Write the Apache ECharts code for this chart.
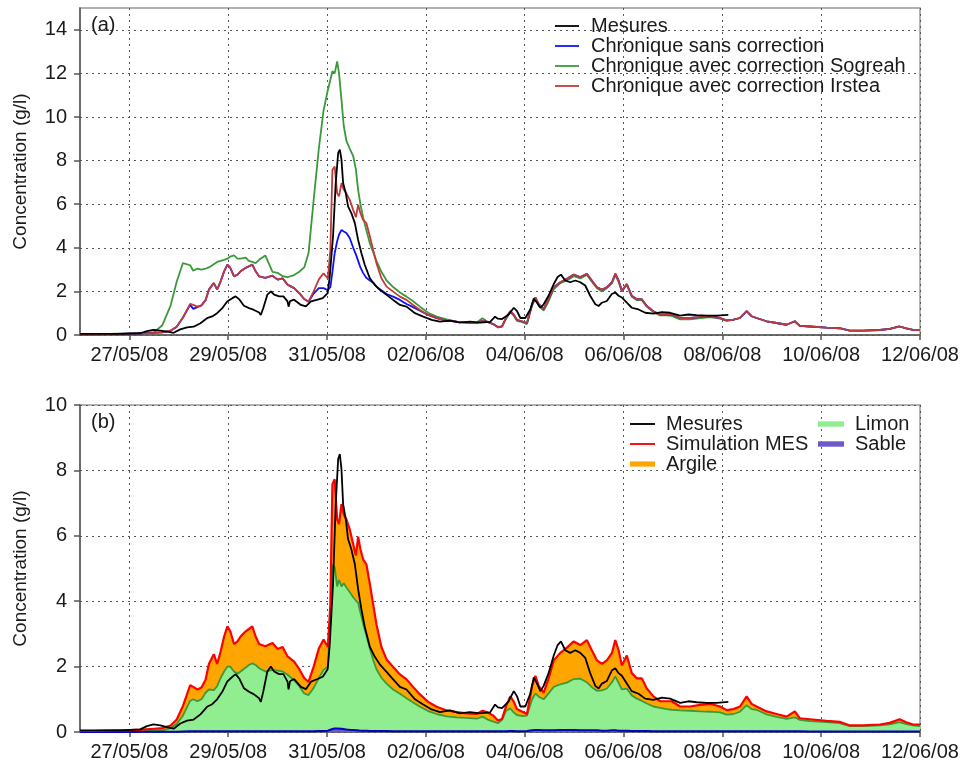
<!DOCTYPE html>
<html><head><meta charset="utf-8">
<script src="https://cdn.jsdelivr.net/npm/echarts@6/dist/echarts.min.js"></script>
<style>html,body{margin:0;padding:0;background:#fff}#c{width:962px;height:767px}</style>
</head><body><div id="c"></div>
<script>
// ---- DATA (hours since 26/05/08 00:00) ----
const tickHours = [24, 72, 120, 168, 216, 264, 312, 360, 408];
const tickLabels = ['27/05/08','29/05/08','31/05/08','02/06/08','04/06/08','06/06/08','08/06/08','10/06/08','12/06/08'];
const yTicksA = [0, 2, 4, 6, 8, 10, 12, 14];
const yTicksB = [0, 2, 4, 6, 8, 10];

const simHours = [
  0, 6, 12, 18, 24, 30, 36, 40, 44, 47,
  50, 53.5, 55, 57, 59, 61, 62.6, 65, 66.6, 68.3,
  70, 71.6, 73, 74.8, 76.5, 78, 80.5, 82, 83.7, 85.3,
  87, 90, 93.5, 96, 98.4, 100.8, 104, 106.5, 108.9, 111,
  113.5, 116, 118.3, 120.4, 121.6, 122.6, 123.7, 124.9, 125.8, 127,
  128.1, 129.4, 131, 132.7, 134, 135.1, 136.2, 137.5, 139.1, 140.8,
  142.4, 144, 146.4, 148.9, 152.1, 155.4, 158.6, 161.8, 165.1, 169.1,
  173.2, 178.1, 183, 187.8, 192.7, 195.5, 198, 200.8, 203, 205,
  207, 209, 210.6, 212.2, 214.6, 217.1, 219.6, 221.2, 222.8, 225.2,
  227.6, 230.1, 233.3, 236.5, 239.8, 243, 246.2, 248.6, 251.1, 253.5,
  255.9, 258.4, 260, 261.6, 263.2, 265.6, 268, 270.5, 272.9, 275.3,
  278.5, 281.8, 285, 287.4, 291.5, 296.4, 301.3, 306.1, 310.9, 314.1,
  317.4, 320.6, 323.8, 326.2, 328.6, 333.5, 338.3, 343.2, 347.2, 349.6,
  354.5, 362.6, 369, 373.9, 380.4, 388.5, 393.3, 398.1, 401.3, 404.6, 408
];
// Chronique avec correction Irstea (= Simulation MES in panel b)
const irstea = [
  0.03, 0.03, 0.04, 0.05, 0.06, 0.07, 0.1, 0.12, 0.2, 0.38,
  0.8, 1.43, 1.38, 1.3, 1.36, 1.6, 2.08, 2.38, 2.08, 2.46,
  2.92, 3.23, 3.08, 2.69, 2.77, 2.92, 3.08, 3.15, 3.23, 2.92,
  2.69, 2.62, 2.72, 2.54, 2.6, 2.31, 2.15, 1.92, 1.65, 1.53,
  2.0, 2.55, 2.83, 2.6, 3.9, 7.58, 7.73, 6.5, 6.36, 6.97,
  6.66, 6.5, 6.2, 5.74, 5.4, 5.97, 5.59, 5.28, 5.13, 4.52,
  3.9, 3.29, 2.6, 2.22, 1.99, 1.76, 1.61, 1.38, 1.15, 0.92,
  0.77, 0.66, 0.61, 0.57, 0.55, 0.65, 0.6, 0.5, 0.35, 0.4,
  0.8, 1.09, 0.94, 0.7, 0.63, 0.55, 1.41, 1.72, 1.41, 1.2,
  1.64, 2.19, 2.42, 2.58, 2.77, 2.66, 2.81, 2.5, 2.19, 2.08,
  2.19, 2.42, 2.81, 2.5, 2.03, 2.34, 1.8, 1.64, 1.64, 1.33,
  1.09, 0.94, 0.94, 0.94, 0.78, 0.78, 0.83, 0.86, 0.78, 0.67,
  0.7, 0.78, 1.09, 0.86, 0.78, 0.63, 0.55, 0.47, 0.63, 0.42,
  0.39, 0.34, 0.31, 0.2, 0.2, 0.23, 0.28, 0.39, 0.3, 0.23, 0.23
];
const sansCorrection = [
  0.03, 0.03, 0.04, 0.05, 0.06, 0.07, 0.1, 0.12, 0.2, 0.38,
  0.8, 1.38, 1.2, 1.28, 1.36, 1.6, 2.08, 2.38, 2.08, 2.46,
  2.92, 3.23, 3.08, 2.69, 2.77, 2.92, 3.08, 3.15, 3.23, 2.92,
  2.69, 2.62, 2.72, 2.54, 2.6, 2.31, 2.15, 1.92, 1.65, 1.53,
  1.9, 2.15, 2.15, 2.05, 2.2, 2.9, 3.75, 4.3, 4.6, 4.82,
  4.75, 4.68, 4.45, 4.0, 3.7, 3.4, 3.1, 2.85, 2.62, 2.5,
  2.4, 2.22, 2.05, 1.88, 1.76, 1.61, 1.42, 1.28, 1.12, 0.92,
  0.77, 0.66, 0.61, 0.57, 0.55, 0.65, 0.6, 0.5, 0.35, 0.4,
  0.8, 1.09, 0.94, 0.7, 0.63, 0.55, 1.41, 1.72, 1.41, 1.2,
  1.64, 2.19, 2.42, 2.58, 2.77, 2.66, 2.81, 2.5, 2.19, 2.08,
  2.19, 2.42, 2.81, 2.5, 2.03, 2.34, 1.8, 1.64, 1.64, 1.33,
  1.09, 0.94, 0.94, 0.94, 0.78, 0.78, 0.83, 0.86, 0.78, 0.67,
  0.7, 0.78, 1.09, 0.86, 0.78, 0.63, 0.55, 0.47, 0.63, 0.42,
  0.39, 0.34, 0.31, 0.2, 0.2, 0.23, 0.28, 0.39, 0.3, 0.23, 0.23
];
const sogreah = [
  0.03, 0.03, 0.04, 0.06, 0.07, 0.08, 0.13, 0.45, 1.35, 2.45,
  3.3, 3.2, 2.95, 3.05, 3.0, 3.05, 3.1, 3.25, 3.35, 3.4,
  3.45, 3.5, 3.6, 3.65, 3.5, 3.5, 3.55, 3.4, 3.35, 3.3,
  3.45, 3.65, 2.9, 2.85, 2.7, 2.65, 2.75, 2.9, 3.1, 3.75,
  6.2, 8.55, 10.3, 11.25, 11.7, 12.1, 12.0, 12.55, 12.0, 10.8,
  9.6, 8.9, 8.55, 8.2, 7.6, 6.65, 6.0, 5.4, 4.8, 4.2,
  3.8, 3.4, 2.9, 2.5, 2.2, 1.95, 1.76, 1.55, 1.3, 1.02,
  0.84, 0.72, 0.61, 0.57, 0.57, 0.77, 0.6, 0.48, 0.38, 0.4,
  0.75, 1.05, 0.9, 0.65, 0.6, 0.5, 1.35, 1.68, 1.35, 1.12,
  1.55, 2.1, 2.38, 2.5, 2.7, 2.6, 2.75, 2.45, 2.15, 2.0,
  2.15, 2.38, 2.75, 2.45, 2.0, 2.3, 1.75, 1.6, 1.6, 1.3,
  1.05, 0.9, 0.9, 0.88, 0.72, 0.72, 0.78, 0.82, 0.75, 0.65,
  0.7, 0.78, 1.09, 0.86, 0.78, 0.63, 0.55, 0.47, 0.63, 0.42,
  0.39, 0.34, 0.31, 0.2, 0.2, 0.23, 0.28, 0.39, 0.3, 0.23, 0.23
];
// Panel (b) fractions on the same time grid (sable + limon + argile = simulation MES)
const sable = [
  0, 0, 0, 0, 0, 0.005, 0.005, 0.01, 0.01, 0.01,
  0.015, 0.02, 0.02, 0.02, 0.02, 0.02, 0.02, 0.02, 0.02, 0.02,
  0.02, 0.02, 0.02, 0.02, 0.02, 0.02, 0.02, 0.02, 0.02, 0.02,
  0.02, 0.02, 0.02, 0.02, 0.02, 0.02, 0.02, 0.02, 0.02, 0.02,
  0.02, 0.03, 0.03, 0.04, 0.07, 0.09, 0.11, 0.11, 0.1, 0.1,
  0.09, 0.08, 0.07, 0.06, 0.05, 0.05, 0.04, 0.04, 0.04, 0.03,
  0.03, 0.03, 0.03, 0.03, 0.02, 0.02, 0.02, 0.02, 0.02, 0.02,
  0.02, 0.02, 0.02, 0.02, 0.02, 0.02, 0.02, 0.02, 0.02, 0.02,
  0.02, 0.03, 0.03, 0.02, 0.02, 0.03, 0.05, 0.06, 0.06, 0.05,
  0.05, 0.05, 0.06, 0.06, 0.06, 0.05, 0.05, 0.05, 0.05, 0.04,
  0.04, 0.05, 0.05, 0.04, 0.04, 0.04, 0.03, 0.03, 0.03, 0.03,
  0.02, 0.02, 0.02, 0.02, 0.02, 0.02, 0.02, 0.02, 0.02, 0.02,
  0.02, 0.02, 0.02, 0.02, 0.02, 0.02, 0.02, 0.02, 0.02, 0.02,
  0.015, 0.015, 0.015, 0.015, 0.015, 0.015, 0.015, 0.015, 0.015, 0.015, 0.015
];
const limon = [
  0.02, 0.02, 0.02, 0.03, 0.03, 0.035, 0.045, 0.04, 0.11, 0.24,
  0.485, 0.93, 0.98, 0.92, 0.98, 1.18, 1.28, 1.26, 1.38, 1.63,
  1.83, 1.98, 1.98, 1.83, 1.76, 1.83, 1.95, 2.03, 2.08, 2.03,
  1.93, 1.83, 1.88, 1.86, 1.83, 1.73, 1.56, 1.38, 1.16, 1.11,
  1.33, 1.62, 1.87, 1.96, 3.53, 5.01, 4.94, 4.34, 4.55, 4.35,
  4.46, 4.34, 4.21, 4.06, 3.97, 3.9, 3.61, 3.28, 2.91, 2.52,
  2.17, 1.89, 1.63, 1.45, 1.28, 1.15, 1.01, 0.88, 0.75, 0.62,
  0.53, 0.46, 0.43, 0.41, 0.39, 0.45, 0.36, 0.3, 0.25, 0.35,
  0.63, 0.69, 0.57, 0.5, 0.47, 0.47, 0.95, 1.12, 1.02, 0.95,
  1.13, 1.33, 1.4, 1.45, 1.56, 1.58, 1.47, 1.32, 1.21, 1.23,
  1.29, 1.47, 1.65, 1.46, 1.26, 1.29, 1.09, 0.99, 0.92, 0.84,
  0.76, 0.72, 0.68, 0.66, 0.64, 0.63, 0.61, 0.6, 0.58, 0.51,
  0.53, 0.6, 0.8, 0.68, 0.66, 0.52, 0.44, 0.38, 0.43, 0.35,
  0.315, 0.285, 0.255, 0.165, 0.165, 0.185, 0.215, 0.285, 0.225, 0.185, 0.165
];
const argile = [
  0.01, 0.01, 0.02, 0.02, 0.03, 0.03, 0.05, 0.07, 0.08, 0.13,
  0.3, 0.48, 0.38, 0.36, 0.36, 0.4, 0.78, 1.1, 0.68, 0.81,
  1.07, 1.23, 1.08, 0.84, 0.99, 1.07, 1.11, 1.1, 1.13, 0.87,
  0.74, 0.77, 0.82, 0.66, 0.75, 0.56, 0.57, 0.52, 0.47, 0.4,
  0.65, 0.9, 0.93, 0.6, 0.3, 2.48, 2.68, 2.05, 1.71, 2.52,
  2.11, 2.08, 1.92, 1.62, 1.38, 2.02, 1.94, 1.96, 2.18, 1.97,
  1.7, 1.37, 0.94, 0.74, 0.69, 0.59, 0.58, 0.48, 0.38, 0.28,
  0.22, 0.18, 0.16, 0.14, 0.14, 0.18, 0.22, 0.18, 0.08, 0.03,
  0.15, 0.37, 0.34, 0.18, 0.14, 0.05, 0.41, 0.54, 0.33, 0.2,
  0.46, 0.81, 0.96, 1.07, 1.15, 1.03, 1.29, 1.13, 0.93, 0.81,
  0.86, 0.9, 1.11, 1.0, 0.73, 1.01, 0.68, 0.62, 0.69, 0.46,
  0.31, 0.2, 0.24, 0.26, 0.12, 0.13, 0.2, 0.24, 0.18, 0.14,
  0.15, 0.16, 0.27, 0.16, 0.1, 0.09, 0.09, 0.07, 0.18, 0.05,
  0.06, 0.04, 0.04, 0.02, 0.02, 0.03, 0.05, 0.09, 0.06, 0.03, 0.05
];
const simulationMES = irstea;

const mesHours = [
  0, 10, 20, 29.2, 32.5, 35.7, 39, 42.2, 45.5, 48.7,
  52, 55.2, 58.5, 61.7, 64.2, 66.6, 69.1, 71.5, 74, 75.6,
  77.5, 79.6, 82.1, 84.5, 87, 87.8, 89, 91, 92.7, 94.3,
  96.7, 98.8, 100.8, 101.3, 102, 104, 107.3, 109.7, 112.2, 115.4,
  117.9, 120.3, 121.3, 122.9, 124.2, 125.4, 126.2, 127, 127.8, 129.1,
  130.2, 131.8, 133.5, 135.1, 136.7, 138.3, 140.8, 143.2, 145.6, 148.9,
  152.1, 155.4, 158.6, 162.7, 166.7, 170.8, 174.8, 179.7, 184.6, 189.4,
  194.3, 199.2, 201.6, 203, 205, 208.2, 210.7, 212.3, 213.9, 216.3,
  218.7, 220.4, 222, 223.6, 225.2, 227.6, 230.1, 232, 233.6, 235.7,
  238.1, 240.6, 243, 245.4, 247.8, 250.3, 251.9, 253.5, 255.9, 258.3,
  260, 261.6, 263.2, 265.6, 268, 271.3, 274.5, 278.5, 282.6, 286.6,
  291.5, 295.5, 299.5, 304.4, 309.2, 314.9
];
const mesures = [
  0.05, 0.05, 0.05, 0.08, 0.18, 0.23, 0.2, 0.15, 0.1, 0.26,
  0.35, 0.38, 0.54, 0.77, 0.85, 1.0, 1.23, 1.54, 1.69, 1.77,
  1.62, 1.34, 1.23, 1.15, 1.03, 0.92, 1.23, 1.85, 2.0, 1.85,
  1.77, 1.77, 1.54, 1.3, 1.55, 1.62, 1.38, 1.31, 1.54, 1.62,
  1.69, 1.92, 2.68, 4.52, 6.97, 8.35, 8.5, 8.04, 6.97, 6.5,
  5.9, 5.59, 5.13, 4.36, 3.75, 3.22, 2.6, 2.3, 2.07, 1.84,
  1.61, 1.38, 1.3, 1.0, 0.84, 0.69, 0.61, 0.66, 0.57, 0.61,
  0.57, 0.6, 0.84, 0.75, 0.73, 0.94, 1.25, 1.09, 0.78, 0.78,
  1.17, 1.67, 1.48, 1.25, 1.41, 1.8, 2.34, 2.66, 2.77, 2.5,
  2.42, 2.5, 2.42, 2.27, 1.8, 1.41, 1.33, 1.48, 1.56, 1.88,
  1.95, 1.8, 1.72, 1.48, 1.25, 1.17, 1.02, 0.98, 1.05, 1.02,
  0.89, 0.94, 0.91, 0.89, 0.89, 0.92
];

// ---- CHART ----
const pairs = (hs, vs) => hs.map((h, i) => [h, vs[i]]);
// cumulative tops of the stacked fractions (drawn back to front)
const sableTop = sable.slice();
const limonTop = sable.map((v, i) => v + limon[i]);
const argileTop = sable.map((v, i) => v + limon[i] + argile[i]);

const FONT = '"Liberation Sans", Arial, Helvetica, sans-serif';
const TXT = '#1a1a1a';
const fmtX = v => { const i = tickHours.indexOf(Math.round(v)); return i >= 0 ? tickLabels[i] : ''; };
const THIN = 'path://M0,0 H24 V1.8 H0 Z';
const THICK = 'path://M0,0 H24 V5 H0 Z';

function xAxis(gi) {
  return {
    type: 'value', gridIndex: gi, min: 0, max: 408,
    axisLine: { show: true, onZero: false, lineStyle: { color: '#555', width: 1.5 } },
    axisTick: { show: true, customValues: tickHours, length: 5, lineStyle: { color: '#555', width: 1.5 } },
    axisLabel: { customValues: tickHours, formatter: fmtX, margin: 10, fontSize: 20, fontFamily: FONT, color: TXT, hideOverlap: false },
    splitLine: { show: true, lineStyle: { color: '#555', type: [2, 4], width: 1 } }
  };
}
function yAxis(gi, max, ticks) {
  return {
    type: 'value', gridIndex: gi, min: 0, max: max,
    name: 'Concentration (g/l)', nameLocation: 'middle', nameGap: 50,
    nameTextStyle: { fontSize: 19, fontFamily: FONT, color: TXT },
    axisLine: { show: true, lineStyle: { color: '#555', width: 1.5 } },
    axisTick: { show: true, customValues: ticks, length: 6, lineStyle: { color: '#555', width: 1.5 } },
    axisLabel: { customValues: ticks, margin: 13, fontSize: 20, fontFamily: FONT, color: TXT },
    splitLine: { show: true, lineStyle: { color: '#555', type: [2, 4], width: 1 } }
  };
}
function line(name, gi, data, color, width, z) {
  return {
    name, type: 'line', xAxisIndex: gi, yAxisIndex: gi, data, color,
    symbol: 'none', showSymbol: false, z: z || 2,
    lineStyle: { color, width }, emphasis: { disabled: true }
  };
}
function area(name, data, fill, edge, edgeW, z) {
  return {
    name, type: 'line', xAxisIndex: 1, yAxisIndex: 1, data, color: fill,
    symbol: 'none', showSymbol: false, z,
    lineStyle: { color: edge, width: edgeW }, areaStyle: { color: fill, opacity: 1 },
    emphasis: { disabled: true }
  };
}
const legendText = (pad) => ({ fontSize: 20, lineHeight: 20, fontFamily: FONT, color: TXT, padding: [0, 0, 0, pad] });

const option = {
  animation: false,
  backgroundColor: '#fff',
  title: [
    { text: '(a)', left: 91, top: 15, padding: 0, textStyle: { fontSize: 20, fontWeight: 'normal', fontFamily: FONT, color: TXT } },
    { text: '(b)', left: 91, top: 412, padding: 0, textStyle: { fontSize: 20, fontWeight: 'normal', fontFamily: FONT, color: TXT } }
  ],
  grid: [
    { left: 80, top: 8, width: 840, height: 327, show: true, borderColor: '#999', borderWidth: 1.5, outerBoundsMode: 'none' },
    { left: 80, top: 405, width: 840, height: 327, show: true, borderColor: '#999', borderWidth: 1.5, outerBoundsMode: 'none' }
  ],
  xAxis: [xAxis(0), xAxis(1)],
  yAxis: [yAxis(0, 15, yTicksA), yAxis(1, 10, yTicksB)],
  legend: [
    { orient: 'vertical', left: 555, top: 16, padding: 0, itemGap: 0, itemWidth: 24, itemHeight: 14,
      selectedMode: false, itemStyle: { borderWidth: 0 }, textStyle: legendText(7),
      data: [
        { name: 'Mesures', icon: THIN },
        { name: 'Chronique sans correction', icon: THIN },
        { name: 'Chronique avec correction Sogreah', icon: THIN },
        { name: 'Chronique avec correction Irstea', icon: THIN }
      ] },
    { orient: 'vertical', left: 630, top: 414, padding: 0, itemGap: 0, itemWidth: 25, itemHeight: 14,
      selectedMode: false, itemStyle: { borderWidth: 0 }, textStyle: legendText(6),
      data: [
        { name: 'Mesures', icon: THIN },
        { name: 'Simulation MES', icon: THIN },
        { name: 'Argile', icon: THICK }
      ] },
    { orient: 'vertical', left: 818, top: 414, padding: 0, itemGap: 0, itemWidth: 26, itemHeight: 14,
      selectedMode: false, itemStyle: { borderWidth: 0 }, textStyle: legendText(6),
      data: [
        { name: 'Limon', icon: THICK },
        { name: 'Sable', icon: THICK }
      ] }
  ],
  series: [
    line('Chronique avec correction Sogreah', 0, pairs(simHours, sogreah), '#3a9a3a', 1.8),
    line('Chronique sans correction', 0, pairs(simHours, sansCorrection), '#1010ff', 1.8),
    line('Chronique avec correction Irstea', 0, pairs(simHours, irstea), '#c03a3a', 1.8),
    line('Mesures', 0, pairs(mesHours, mesures), '#000000', 1.8, 3),
    area('Argile', pairs(simHours, argileTop), '#ffa500', '#ffa500', 0, 2),
    area('Limon', pairs(simHours, limonTop), '#90ee90', '#3a9a3a', 1.8, 2),
    area('Sable', pairs(simHours, sableTop), '#6a5acd', '#0000c0', 2, 2),
    line('Simulation MES', 1, pairs(simHours, simulationMES), '#ff0000', 2.2, 3),
    line('Mesures', 1, pairs(mesHours, mesures), '#000000', 1.8, 4)
  ]
};
const chart = echarts.init(document.getElementById('c'), null, { renderer: 'canvas' });
chart.setOption(option);
</script>
</body></html>
